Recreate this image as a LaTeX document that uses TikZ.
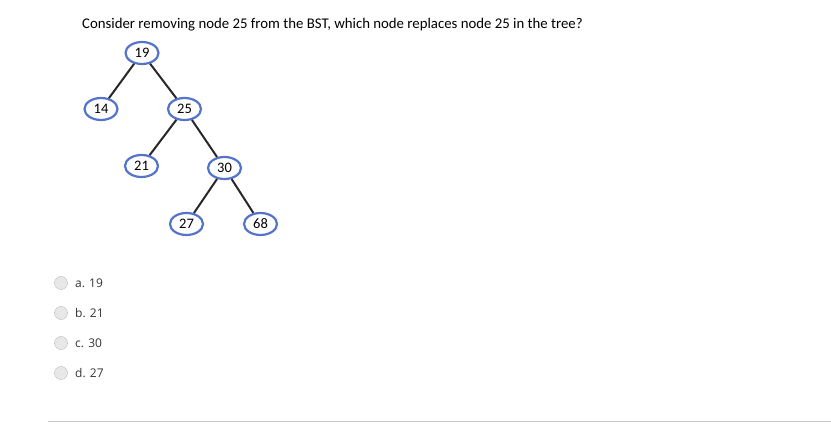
\documentclass[tikz,border=0pt]{standalone}
\usepackage{fontspec}
\setmainfont{Carlito}
\newfontfamily\optfont{Open Sans}
\usetikzlibrary{shapes.geometric}

\definecolor{nodeblue}{RGB}{84,116,204}
\definecolor{edgegray}{RGB}{40,40,40}

\tikzset{
  bstnode/.style={ellipse, draw=nodeblue, line width=2.2pt, fill=white,
    minimum width=33pt, minimum height=22pt, inner sep=0pt, font=\fontsize{14.5}{16}\selectfont},
  bstedge/.style={draw=edgegray, line width=2pt},
  radio/.style={circle, draw=gray!55, fill=gray!18, minimum size=13pt, inner sep=0pt},
  optlabel/.style={anchor=west, inner sep=0pt, font=\optfont\fontsize{12}{14}\selectfont, text=black!80}
}

\begin{document}
\begin{tikzpicture}[x=1pt,y=-1pt]
            \useasboundingbox (0,0) rectangle (831,430);

            % question
            \node[anchor=west, inner sep=0pt, font=\fontsize{14.8}{17}\selectfont] (question) at (82,25)
                {Consider removing node 25 from the BST, which node replaces node 25 in the tree?};

            % tree
            \node[bstnode] (n19) at (142,53) {19};
            \node[bstnode] (n14) at (101,109) {14};
            \node[bstnode] (n25) at (184.5,109) {25};
            \node[bstnode] (n21) at (141.5,166) {21};
            \node[bstnode] (n30) at (224.5,168) {30};
            \node[bstnode] (n27) at (186.5,224) {27};
            \node[bstnode] (n68) at (260.5,224) {68};

            \draw[bstedge] (n19) -- (n14);
            \draw[bstedge] (n19) -- (n25);
            \draw[bstedge] (n25) -- (n21);
            \draw[bstedge] (n25) -- (n30);
            \draw[bstedge] (n30) -- (n27);
            \draw[bstedge] (n30) -- (n68);

            % answers
            \node[radio] (ra) at (61,283) {};
            \node[radio] (rb) at (61,313) {};
            \node[radio] (rc) at (61,343) {};
            \node[radio] (rd) at (61,373) {};
            \node[optlabel] (a) at (75,283) {a. 19};
            \node[optlabel] (b) at (75,313) {b. 21};
            \node[optlabel] (c) at (75,343) {c. 30};
            \node[optlabel] (d) at (75,373) {d. 27};

            % rule
            \coordinate (ruleleft) at (48,422);
            \coordinate (ruleright) at (831,422);
            \draw[gray!45, line width=1pt] (ruleleft) -- (ruleright);

        \end{tikzpicture}
\end{document}
